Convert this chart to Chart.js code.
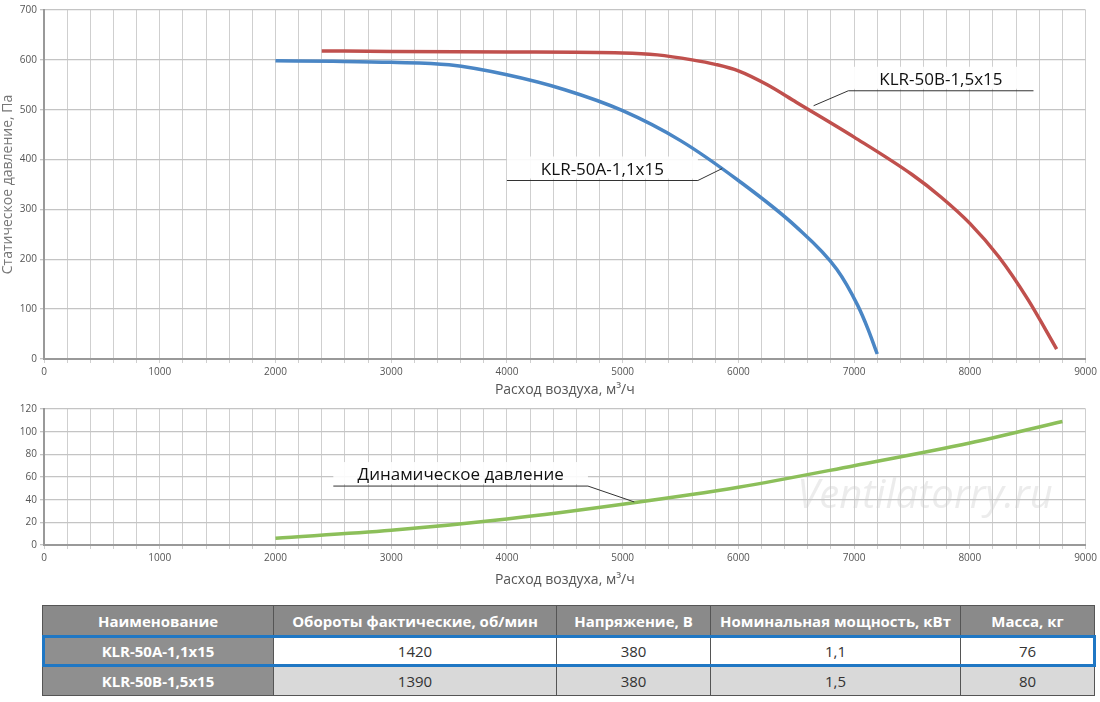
<!DOCTYPE html>
<html><head><meta charset="utf-8">
<script src="https://cdn.jsdelivr.net/npm/chart.js@4"></script>
<style>
body{margin:0;background:#fff;font-family:"Open Sans",sans-serif;width:1100px;height:702px;overflow:hidden}
#c1{position:absolute;left:0;top:0}
#c2{position:absolute;left:0;top:400px}
table{position:absolute;left:42px;top:605px;width:1053px;border-collapse:collapse;font-family:"Open Sans",sans-serif}
td,th{border:1px solid #555;height:29px;text-align:center;font-size:15px;padding:0}
th{background:#8a8a8a;color:#fff;font-weight:bold}
td.n{background:#8f8f8f;color:#fff;font-weight:bold}
tr.r1 td{background:#fff;color:#333}
tr.r1 td.n{background:#8f8f8f;color:#fff}
tr.r1{outline:3px solid #1f77c4;outline-offset:-2px}
tr.r2 td{background:#d9d9d9;color:#333}
tr.r2 td.n{background:#8f8f8f;color:#fff}
</style></head><body>
<canvas id="c1" width="1100" height="400"></canvas>
<canvas id="c2" width="1100" height="190"></canvas>
<table>
<tr><th style="width:230px">Наименование</th><th style="width:282px">Обороты фактические, об/мин</th><th style="width:153px">Напряжение, В</th><th style="width:249px">Номинальная мощность, кВт</th><th>Масса, кг</th></tr>
<tr class="r1"><td class="n">KLR-50A-1,1x15</td><td>1420</td><td>380</td><td>1,1</td><td>76</td></tr>
<tr class="r2"><td class="n">KLR-50B-1,5x15</td><td>1390</td><td>380</td><td>1,5</td><td>80</td></tr>
</table>
<script>
// данные кривых (расход м3/ч, давление Па)
const rashodA = [2000, 2500, 3000, 3500, 4000, 4500, 5000, 5500, 6000, 6500, 6850, 7030, 7120, 7200]
const davlenieA = [598, 597, 595, 590, 570, 540, 498, 438, 358, 265, 180, 108, 60, 10]
const rashodB = [2400, 3000, 4000, 5000, 5300, 5600, 5800, 6000, 6250, 6500, 7000, 7500, 7750, 8000, 8250, 8500, 8750]
const davlenieB = [618, 617, 616, 614, 610, 600, 591, 578, 550, 515, 445, 370, 325, 272, 205, 120, 20]
const rashodD = [2000, 3000, 4000, 5000, 6000, 7000, 8000, 8800]
const davlenieD = [6, 13, 23, 36, 51, 70, 90, 109]

const pts = (xs, ys) => xs.map((x, i) => ({x: x, y: ys[i]}))
const gris = '#555'
const fuenteTick = {family: 'Open Sans', size: 10}

// etiquetas con linea guia, en coordenadas de datos
const etiquetas = {
    id: 'etiquetas',
    afterDatasetsDraw(chart, args, opts) {
        const ctx = chart.ctx, xs = chart.scales.x, ys = chart.scales.y
        ctx.save()
        ctx.strokeStyle = '#333'
        ctx.lineWidth = 1
        ctx.font = '17px "Open Sans"'
        ctx.textAlign = 'center'
        for (const e of opts.items) {
            const x1 = xs.getPixelForValue(e.from), x2 = xs.getPixelForValue(e.to)
            const yl = ys.getPixelForValue(e.y)
            ctx.fillStyle = 'rgba(255,255,255,0.9)'
            ctx.fillRect(x1, yl - 24, x2 - x1, 22)
            ctx.fillStyle = '#111'
            ctx.fillText(e.text, (x1 + x2) / 2, yl - 6)
            const xg = e.izq ? x1 : x2
            ctx.beginPath()
            ctx.moveTo(e.izq ? x2 : x1, yl)
            ctx.lineTo(xg, yl)
            ctx.lineTo(xs.getPixelForValue(e.px), ys.getPixelForValue(e.py))
            ctx.stroke()
        }
        if (opts.marca) {
            ctx.font = 'italic 40px "Open Sans"'
            ctx.fillStyle = 'rgba(200,200,200,0.35)'
            ctx.fillText('Ventilatorry.ru', 925, 108)
        }
        ctx.restore()
    }
}

const ejes = (ymax, ystep, titulo, ancho, alto) => ({
    x: {type: 'linear', min: 0, max: 9000,
        ticks: {stepSize: 200, autoSkip: false, maxRotation: 0, color: gris, font: fuenteTick,
                callback: v => v % 1000 === 0 ? v : ''},
        grid: {color: '#cfcfcf', lineWidth: 1, tickLength: 4},
        border: {color: '#999', width: 2},
        title: {display: true, text: 'Расход воздуха, м³/ч', color: '#555', font: {family: 'Open Sans', size: 14}, padding: 2},
        afterFit: s => { s.height = alto }},
    y: {min: 0, max: ymax,
        ticks: {stepSize: ystep, color: gris, font: fuenteTick},
        grid: {color: '#c4c4c4', lineWidth: 1.3, tickLength: 4},
        border: {color: '#999', width: 2},
        title: {display: !!titulo, text: titulo, color: '#777', font: {family: 'Open Sans', size: 14}, padding: 0},
        afterFit: s => { s.width = ancho }}
})

new Chart(document.getElementById('c1'), {
    type: 'line',
    data: {datasets: [
        {data: pts(rashodA, davlenieA), borderColor: '#4a86c5', borderWidth: 3.5, pointRadius: 0, cubicInterpolationMode: 'monotone'},
        {data: pts(rashodB, davlenieB), borderColor: '#c0504d', borderWidth: 3.5, pointRadius: 0, cubicInterpolationMode: 'monotone'}
    ]},
    options: {
        responsive: false, animation: false,
        layout: {padding: {top: 10, right: 12}},
        plugins: {legend: {display: false}, tooltip: {enabled: false},
            etiquetas: {items: [
                {text: 'KLR-50B-1,5x15', from: 6950, to: 8550, y: 538, px: 6650, py: 508, izq: true},
                {text: 'KLR-50A-1,1x15', from: 4000, to: 5650, y: 358, px: 5860, py: 382}
            ]}},
        scales: ejes(700, 100, 'Статическое давление, Па', 44, 41)
    },
    plugins: [etiquetas]
})

new Chart(document.getElementById('c2'), {
    type: 'line',
    data: {datasets: [
        {data: pts(rashodD, davlenieD), borderColor: '#8cbf5a', borderWidth: 3.5, pointRadius: 0, cubicInterpolationMode: 'monotone'}
    ]},
    options: {
        responsive: false, animation: false,
        layout: {padding: {top: 6, right: 12}},
        plugins: {legend: {display: false}, tooltip: {enabled: false},
            etiquetas: {marca: true, items: [
                {text: 'Динамическое давление', from: 2500, to: 4700, y: 52, px: 5100, py: 38}
            ]}},
        scales: ejes(120, 20, '', 44, 45)
    },
    plugins: [etiquetas]
})
</script>
</body></html>
